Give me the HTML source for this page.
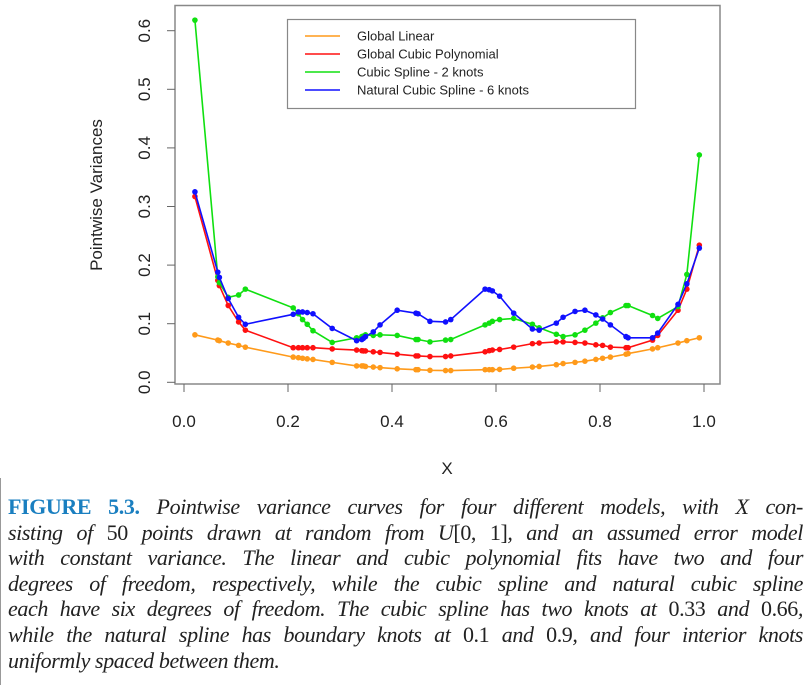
<!DOCTYPE html>
<html><head><meta charset="utf-8">
<style>
body{margin:0;background:#fff;width:811px;height:685px;overflow:hidden;position:relative;font-family:"Liberation Sans",sans-serif}
#cap{position:absolute;left:8px;top:494px;width:795px;font-family:"Liberation Serif",serif;font-size:22px;letter-spacing:-0.4px;line-height:25.6px;font-style:italic;color:#222}
#cap div{text-align:justify;text-align-last:justify;white-space:nowrap;overflow:visible}
#cap div.last{text-align-last:left}
#cap b{font-style:normal;color:#1a7fc0;font-weight:bold}
#cap .r{font-style:normal}
#lb{position:absolute;left:0;top:478px;width:1px;height:207px;background:#999}
</style></head><body>
<svg id="chart" width="811" height="490" style="position:absolute;left:0;top:0"></svg>
<div id="lb"></div>
<div id="cap">
<div><b>FIGURE 5.3.</b> Pointwise variance curves for four different models, with X con-</div>
<div>sisting of <span class="r">50</span> points drawn at random from U<span class="r">[0, 1]</span>, and an assumed error model</div>
<div>with constant variance. The linear and cubic polynomial fits have two and four</div>
<div>degrees of freedom, respectively, while the cubic spline and natural cubic spline</div>
<div>each have six degrees of freedom. The cubic spline has two knots at <span class="r">0.33</span> and <span class="r">0.66</span>,</div>
<div>while the natural spline has boundary knots at <span class="r">0.1</span> and <span class="r">0.9</span>, and four interior knots</div>
<div class="last">uniformly spaced between them.</div>
</div>
<script>
const xs=[.021,.065,.068,.085,.105,.118,.210,.220,.228,.237,.248,.285,.332,.342,.345,.349,.364,.377,.410,.446,.450,.473,.503,.513,.579,.587,.593,.607,.634,.670,.683,.716,.729,.752,.771,.792,.805,.820,.850,.854,.901,.911,.950,.967,.991];
const linear=[.081,.072,.071,.067,.063,.060,.043,.042,.041,.040,.039,.034,.028,.028,.028,.027,.026,.025,.023,.0216,.0216,.0205,.020,.020,.0216,.0216,.0216,.022,.024,.026,.027,.030,.032,.034,.036,.039,.041,.043,.048,.049,.057,.059,.067,.071,.076];
const cubic=[.317,.174,.165,.131,.103,.089,.059,.059,.059,.059,.059,.057,.055,.054,.0535,.0535,.052,.051,.048,.045,.045,.044,.044,.045,.052,.054,.055,.056,.060,.066,.067,.069,.069,.068,.067,.064,.063,.060,.059,.059,.072,.080,.123,.159,.234];
const spline2=[.618,.180,.170,.145,.149,.159,.127,.117,.107,.099,.088,.068,.076,.078,.079,.081,.080,.081,.080,.073,.073,.069,.072,.073,.098,.101,.104,.107,.109,.099,.093,.082,.078,.081,.089,.101,.110,.119,.131,.131,.114,.109,.129,.184,.388];
const natural6=[.325,.188,.179,.143,.111,.099,.116,.120,.120,.119,.117,.092,.071,.073,.075,.078,.086,.098,.123,.118,.117,.104,.103,.107,.159,.158,.156,.147,.118,.091,.089,.101,.111,.121,.123,.115,.108,.098,.078,.076,.076,.084,.133,.168,.229];
const xTicks=[0,0.2,0.4,0.6,0.8,1.0];
const xTickLabels=["0.0","0.2","0.4","0.6","0.8","1.0"];
const yTicks=[0,0.1,0.2,0.3,0.4,0.5,0.6];
const yTickLabels=["0.0","0.1","0.2","0.3","0.4","0.5","0.6"];
const seriesNames=["Global Linear","Global Cubic Polynomial","Cubic Spline - 2 knots","Natural Cubic Spline - 6 knots"];
const colors=["#ff9a1a","#ff1010","#10e010","#1010ff"];
const NS="http://www.w3.org/2000/svg";
const svg=document.getElementById('chart');
const X=v=>184+v*520, Y=v=>382.3-v*586;
function el(t,a,p){const e=document.createElementNS(NS,t);for(const k in a)e.setAttribute(k,a[k]);(p||svg).appendChild(e);return e;}
const box=el('rect',{x:175,y:5.5,width:545,height:378.5,fill:'none',stroke:'#888','stroke-width':1.5});


xTicks.forEach((t,i)=>{
  const l=el('line',{x1:X(t),x2:X(t),y1:384,y2:392,stroke:'#666','stroke-width':1});
  
  
  const tx=el('text',{x:X(t),y:427,'text-anchor':'middle','font-size':17,fill:'#222'});
  tx.textContent=xTickLabels[i];
  
  
});
yTicks.forEach((t,i)=>{
  const l=el('line',{x1:167,x2:175,y1:Y(t),y2:Y(t),stroke:'#666','stroke-width':1});
  
  
  const tx=el('text',{x:0,y:0,'text-anchor':'middle','font-size':17,fill:'#222',transform:`translate(150,${Y(t)}) rotate(-90)`});
  tx.textContent=yTickLabels[i];
  
  
});
const yt=el('text',{x:0,y:0,'text-anchor':'middle','font-size':17,fill:'#222',transform:'translate(102,195) rotate(-90)'});
yt.textContent='Pointwise Variances';


const xt=el('text',{x:447,y:474,'text-anchor':'middle','font-size':17,fill:'#222'});
xt.textContent='X';


const all=[linear,cubic,spline2,natural6];
const snames=['linear','cubic','spline2','natural6'];
all.forEach((ys,si)=>{
  const g=el('g',{});
  
  
  const pts=xs.map((x,i)=>X(x)+','+Y(ys[i])).join(' ');
  const pl=el('polyline',{points:pts,fill:'none',stroke:colors[si],'stroke-width':1.6},g);
  
  
  xs.forEach((x,i)=>{
    const c=el('circle',{cx:X(x),cy:Y(ys[i]),r:2.8,fill:colors[si]},g);
    
    
  });
});
const lg=el('g',{});


el('rect',{x:287.5,y:19.5,width:348,height:89,fill:'#fff',stroke:'#888','stroke-width':1.2},lg);
seriesNames.forEach((n,i)=>{
  const yy=36+i*18;
  const l=el('line',{x1:305,x2:340,y1:yy,y2:yy,stroke:colors[i],'stroke-width':1.6},lg);
  
  
  const t=el('text',{x:357,y:yy+4.5,'font-size':13,fill:'#222'},lg);
  t.textContent=n;
  
  
});
</script>
</body></html>
